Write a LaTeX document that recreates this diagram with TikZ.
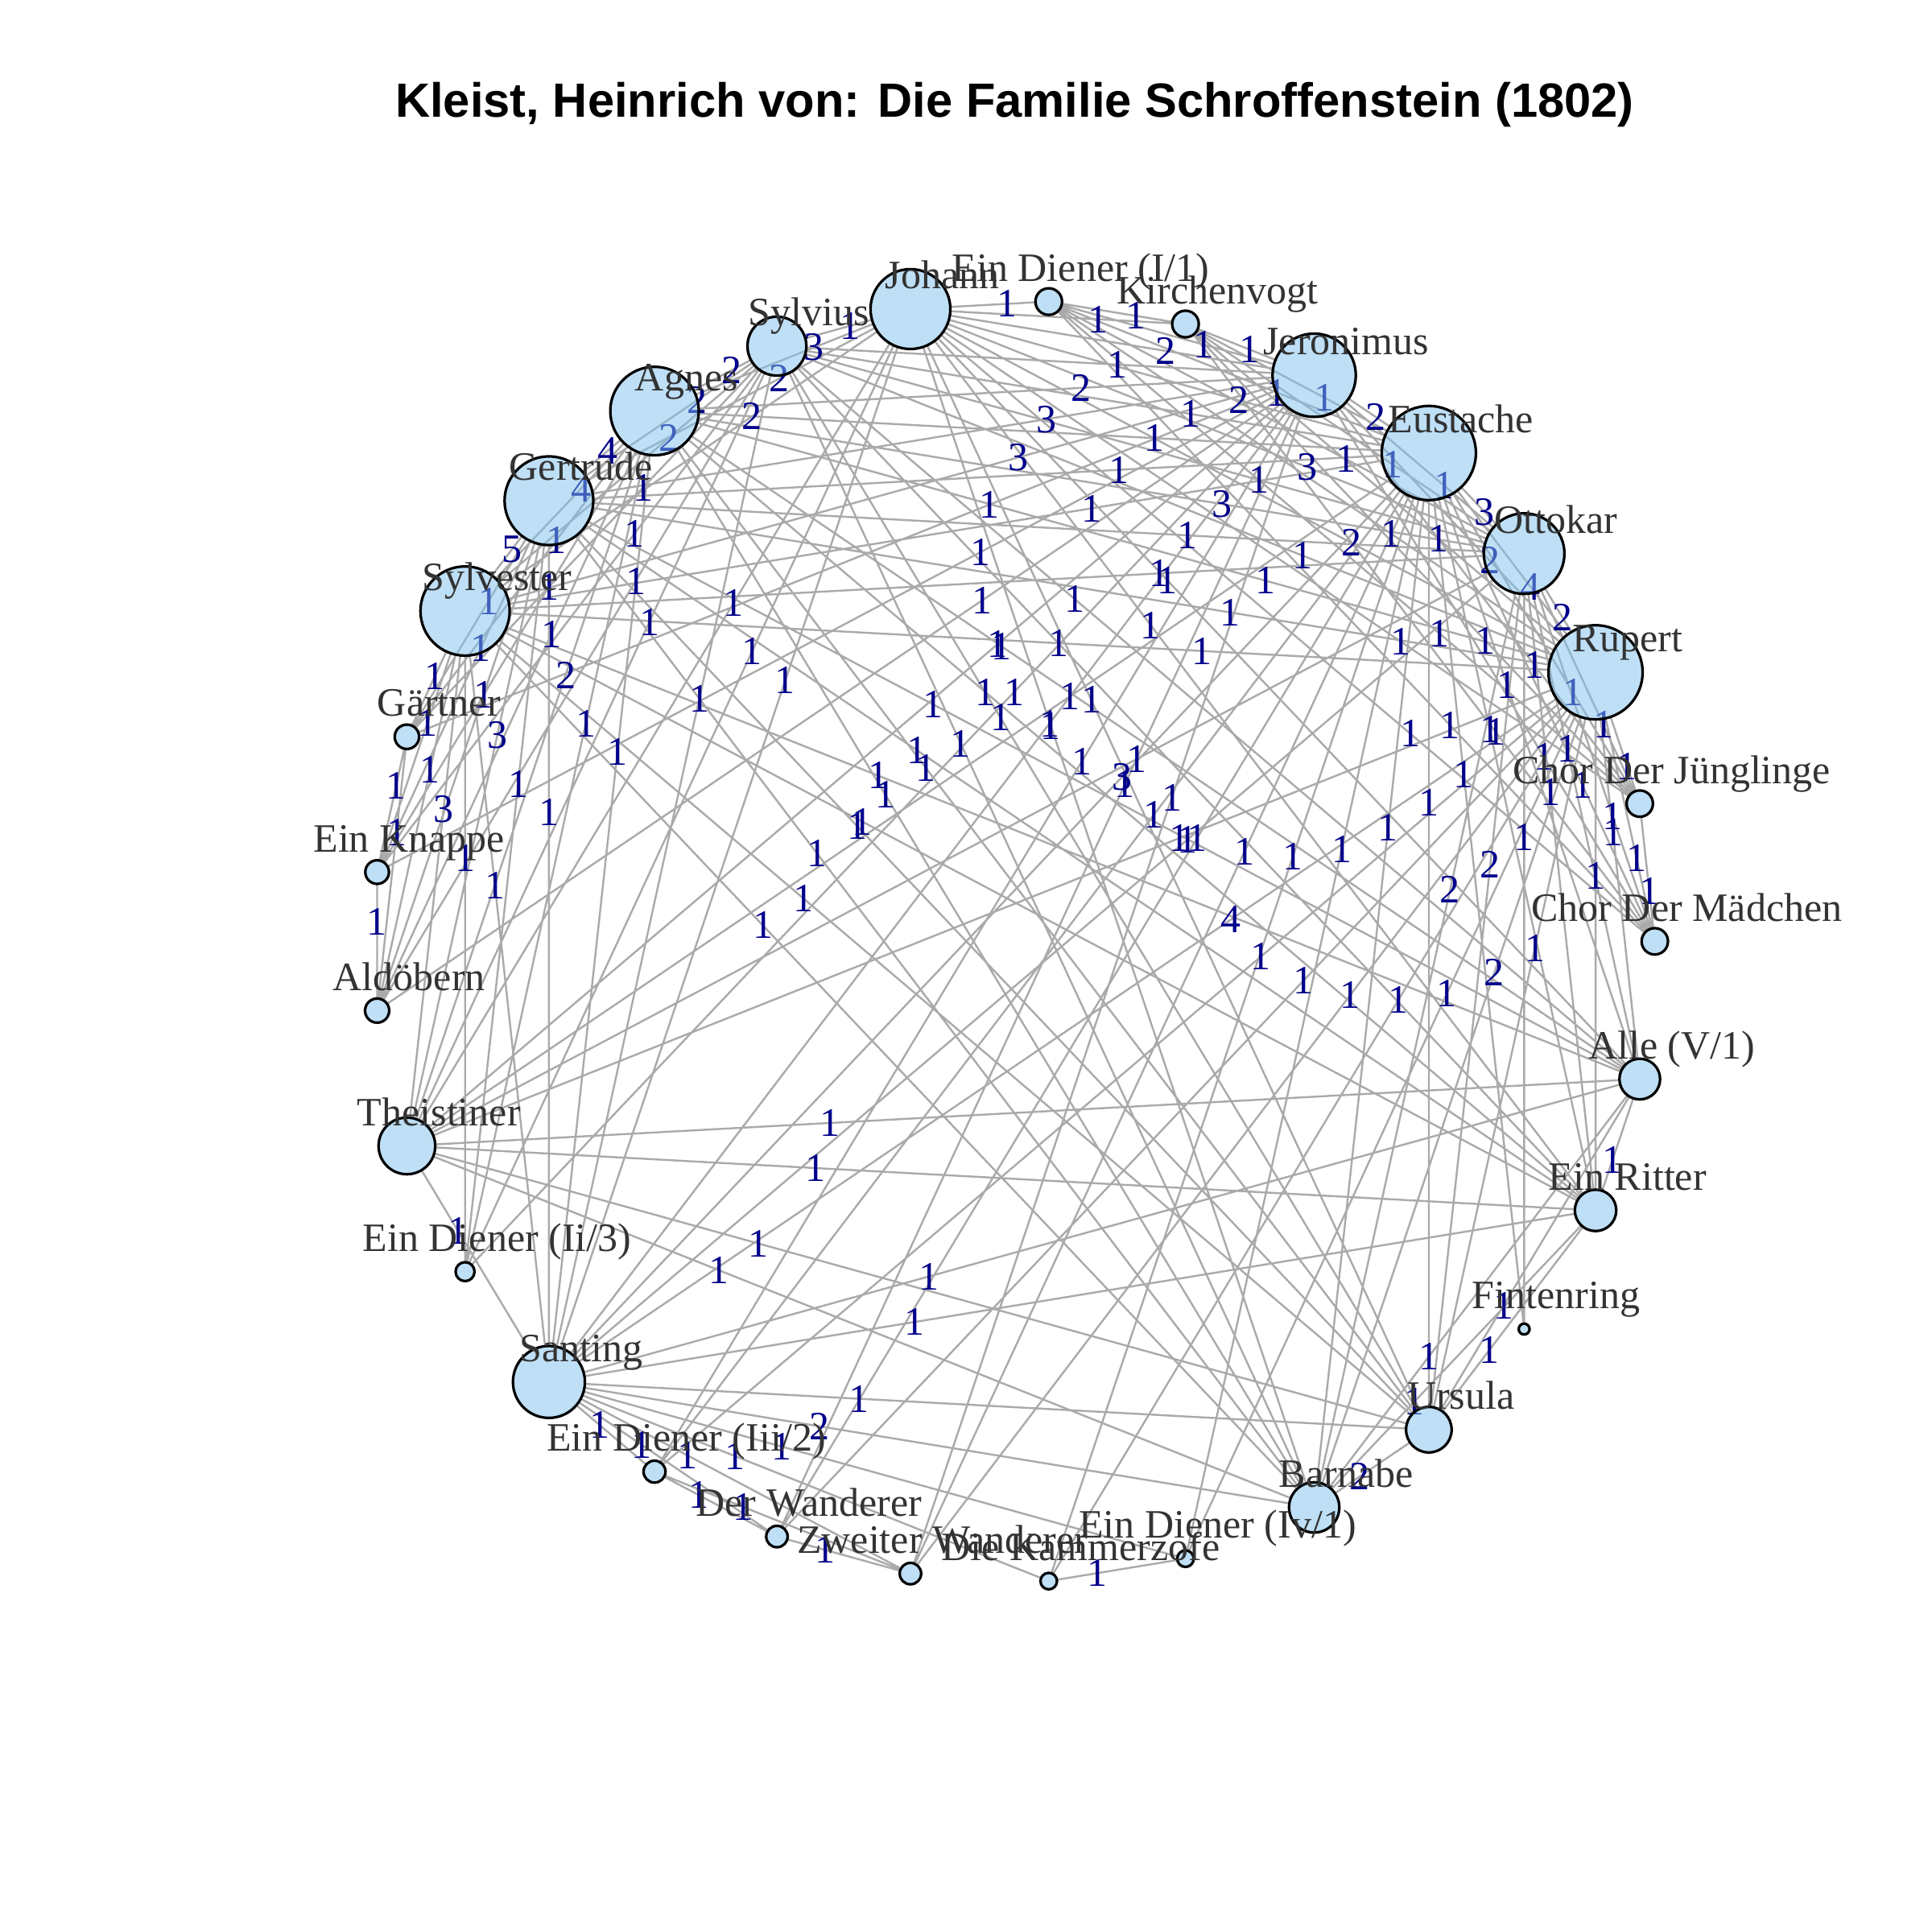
\documentclass[tikz,border=0pt]{standalone}
\usepackage{fontspec}
\setmainfont{Liberation Serif}
\newfontfamily\titlefont{Liberation Sans}
\usetikzlibrary{calc}
\pgfdeclarelayer{background}
\pgfsetlayers{background,main}
\definecolor{linkgray}{RGB}{170,170,170}
\definecolor{wtblue}{RGB}{0,0,139}
\definecolor{vxblue}{RGB}{126,192,238}
\definecolor{namegray}{RGB}{51,51,51}

\begin{document}
\begin{tikzpicture}[
  vx/.style={circle, draw=black, line width=0.6pt, fill=vxblue, fill opacity=0.5, draw opacity=1, inner sep=0pt, outer sep=0pt},
  vname/.style={anchor=base, text=namegray, font=\fontsize{9.3}{11}\selectfont, inner sep=0pt},
  link/.style={draw=linkgray, line width=0.45pt},
  wt/.style={pos=1/3, text=wtblue, font=\fontsize{9.3}{11}\selectfont, inner sep=0pt}]
  \useasboundingbox (0,0) rectangle (15.68,15.68);
  % title
  \node[anchor=base, font=\titlefont\bfseries\fontsize{11.1}{13}\selectfont] (title) at (8.235,14.726) {Kleist, Heinrich von: Die Familie Schroffenstein (1802)};
  % circle layout, r=5.2, 29 characters, step 360/29
  \coordinate (c) at (8.23,8.04);
  \node[vx, minimum size=2.14mm] (chorm)       at ($(c)+(0:5.2)$)       {};
  \node[vx, minimum size=2.14mm] (chorj)       at ($(c)+(12.414:5.2)$)  {};
  \node[vx, minimum size=7.64mm] (rupert)      at ($(c)+(24.828:5.2)$)  {};
  \node[vx, minimum size=6.54mm] (ottokar)     at ($(c)+(37.241:5.2)$)  {};
  \node[vx, minimum size=7.64mm] (eustache)    at ($(c)+(49.655:5.2)$)  {};
  \node[vx, minimum size=6.76mm] (jeronimus)   at ($(c)+(62.069:5.2)$)  {};
  \node[vx, minimum size=2.16mm] (kirchenvogt) at ($(c)+(74.483:5.2)$)  {};
  \node[vx, minimum size=2.16mm] (dieneri)     at ($(c)+(86.897:5.2)$)  {};
  \node[vx, minimum size=6.48mm] (johann)      at ($(c)+(99.310:5.2)$)  {};
  \node[vx, minimum size=4.78mm] (sylvius)     at ($(c)+(111.724:5.2)$) {};
  \node[vx, minimum size=7.18mm] (agnes)       at ($(c)+(124.138:5.2)$) {};
  \node[vx, minimum size=7.20mm] (gertrude)    at ($(c)+(136.552:5.2)$) {};
  \node[vx, minimum size=7.24mm] (sylvester)   at ($(c)+(148.966:5.2)$) {};
  \node[vx, minimum size=1.98mm] (gaertner)    at ($(c)+(161.379:5.2)$) {};
  \node[vx, minimum size=1.92mm] (knappe)      at ($(c)+(173.793:5.2)$) {};
  \node[vx, minimum size=1.96mm] (aldoebern)   at ($(c)+(186.207:5.2)$) {};
  \node[vx, minimum size=4.60mm] (theistiner)  at ($(c)+(198.621:5.2)$) {};
  \node[vx, minimum size=1.54mm] (dienerii)    at ($(c)+(211.034:5.2)$) {};
  \node[vx, minimum size=5.84mm] (santing)     at ($(c)+(223.448:5.2)$) {};
  \node[vx, minimum size=1.78mm] (dieneriii)   at ($(c)+(235.862:5.2)$) {};
  \node[vx, minimum size=1.74mm] (wanderer)    at ($(c)+(248.276:5.2)$) {};
  \node[vx, minimum size=1.74mm] (zweiter)     at ($(c)+(260.690:5.2)$) {};
  \node[vx, minimum size=1.34mm] (zofe)        at ($(c)+(273.103:5.2)$) {};
  \node[vx, minimum size=1.34mm] (dieneriv)    at ($(c)+(285.517:5.2)$) {};
  \node[vx, minimum size=4.08mm] (barnabe)     at ($(c)+(297.931:5.2)$) {};
  \node[vx, minimum size=3.70mm] (ursula)      at ($(c)+(310.345:5.2)$) {};
  \node[vx, minimum size=0.88mm] (fintenring)  at ($(c)+(322.759:5.2)$) {};
  \node[vx, minimum size=3.36mm] (ritter)      at ($(c)+(335.172:5.2)$) {};
  \node[vx, minimum size=3.30mm] (alle)        at ($(c)+(347.586:5.2)$) {};
  % names, up and to the right of each vertex
  \node[vname] at ($(chorm)+(0.26,0.165)$)       {Chor Der Mädchen};
  \node[vname] at ($(chorj)+(0.26,0.165)$)       {Chor Der Jünglinge};
  \node[vname] at ($(rupert)+(0.26,0.165)$)      {Rupert};
  \node[vname] at ($(ottokar)+(0.26,0.165)$)     {Ottokar};
  \node[vname] at ($(eustache)+(0.26,0.165)$)    {Eustache};
  \node[vname] at ($(jeronimus)+(0.26,0.165)$)   {Jeronimus};
  \node[vname] at ($(kirchenvogt)+(0.26,0.165)$) {Kirchenvogt};
  \node[vname] at ($(dieneri)+(0.26,0.165)$)     {Ein Diener (I/1)};
  \node[vname] at ($(johann)+(0.26,0.165)$)      {Johann};
  \node[vname] at ($(sylvius)+(0.26,0.165)$)     {Sylvius};
  \node[vname] at ($(agnes)+(0.26,0.165)$)       {Agnes};
  \node[vname] at ($(gertrude)+(0.26,0.165)$)    {Gertrude};
  \node[vname] at ($(sylvester)+(0.26,0.165)$)   {Sylvester};
  \node[vname] at ($(gaertner)+(0.26,0.165)$)    {Gärtner};
  \node[vname] at ($(knappe)+(0.26,0.165)$)      {Ein Knappe};
  \node[vname] at ($(aldoebern)+(0.26,0.165)$)   {Aldöbern};
  \node[vname] at ($(theistiner)+(0.26,0.165)$)  {Theistiner};
  \node[vname] at ($(dienerii)+(0.26,0.165)$)    {Ein Diener (Ii/3)};
  \node[vname] at ($(santing)+(0.26,0.165)$)     {Santing};
  \node[vname] at ($(dieneriii)+(0.26,0.165)$)   {Ein Diener (Iii/2)};
  \node[vname] at ($(wanderer)+(0.26,0.165)$)    {Der Wanderer};
  \node[vname] at ($(zweiter)+(0.26,0.165)$)     {Zweiter Wanderer};
  \node[vname] at ($(zofe)+(0.26,0.165)$)        {Die Kammerzofe};
  \node[vname] at ($(dieneriv)+(0.26,0.165)$)    {Ein Diener (Iv/1)};
  \node[vname] at ($(barnabe)+(0.26,0.165)$)     {Barnabe};
  \node[vname] at ($(ursula)+(0.26,0.165)$)      {Ursula};
  \node[vname] at ($(fintenring)+(0.26,0.165)$)  {Fintenring};
  \node[vname] at ($(ritter)+(0.26,0.165)$)      {Ein Ritter};
  \node[vname] at ($(alle)+(0.26,0.165)$)        {Alle (V/1)};
  % weighted links, weight sits a third of the way from the first vertex
  \begin{pgfonlayer}{background}
  \draw[link]
    % Chor Der Maedchen
    (chorm) -- node[wt]{1} (chorj) (chorm) -- node[wt]{1} (rupert) (chorm) -- node[wt]{1} (ottokar)
    (chorm) -- node[wt]{1} (eustache) (chorm) -- node[wt]{1} (jeronimus) (chorm) -- node[wt]{1} (kirchenvogt)
    (chorm) -- node[wt]{1} (dieneri) (chorm) -- node[wt]{1} (johann)
    % Chor Der Juenglinge
    (chorj) -- node[wt]{1} (rupert) (chorj) -- node[wt]{1} (ottokar) (chorj) -- node[wt]{1} (eustache)
    (chorj) -- node[wt]{1} (jeronimus) (chorj) -- node[wt]{1} (kirchenvogt) (chorj) -- node[wt]{1} (dieneri)
    (chorj) -- node[wt]{1} (johann)
    % Rupert
    (rupert) -- node[wt]{2} (ottokar) (rupert) -- node[wt]{4} (eustache) (rupert) -- node[wt]{2} (jeronimus)
    (rupert) -- node[wt]{1} (kirchenvogt) (rupert) -- node[wt]{1} (dieneri) (rupert) -- node[wt]{2} (johann)
    (rupert) -- node[wt]{1} (sylvius) (rupert) -- node[wt]{1} (agnes) (rupert) -- node[wt]{1} (gertrude)
    (rupert) -- node[wt]{1} (sylvester) (rupert) -- node[wt]{1} (theistiner) (rupert) -- node[wt]{4} (santing)
    (rupert) -- node[wt]{1} (dieneriii) (rupert) -- node[wt]{1} (wanderer) (rupert) -- node[wt]{1} (zweiter)
    (rupert) -- node[wt]{1} (zofe) (rupert) -- node[wt]{1} (dieneriv) (rupert) -- node[wt]{2} (barnabe)
    (rupert) -- node[wt]{1} (ursula) (rupert) -- node[wt]{1} (ritter) (rupert) -- node[wt]{1} (alle)
    % Ottokar
    (ottokar) -- node[wt]{3} (eustache) (ottokar) -- node[wt]{1} (jeronimus) (ottokar) -- node[wt]{1} (kirchenvogt)
    (ottokar) -- node[wt]{1} (dieneri) (ottokar) -- node[wt]{3} (johann) (ottokar) -- node[wt]{1} (sylvius)
    (ottokar) -- node[wt]{3} (agnes) (ottokar) -- node[wt]{1} (gertrude) (ottokar) -- node[wt]{1} (sylvester)
    (ottokar) -- node[wt]{1} (theistiner) (ottokar) -- node[wt]{1} (santing) (ottokar) -- node[wt]{2} (barnabe)
    (ottokar) -- node[wt]{2} (ursula) (ottokar) -- node[wt]{1} (fintenring) (ottokar) -- node[wt]{1} (ritter)
    (ottokar) -- node[wt]{1} (alle)
    % Eustache
    (eustache) -- node[wt]{2} (jeronimus) (eustache) -- node[wt]{1} (kirchenvogt) (eustache) -- node[wt]{1} (dieneri)
    (eustache) -- node[wt]{2} (johann) (eustache) -- node[wt]{1} (sylvius) (eustache) -- node[wt]{1} (agnes)
    (eustache) -- node[wt]{1} (gertrude) (eustache) -- node[wt]{1} (sylvester) (eustache) -- node[wt]{1} (theistiner)
    (eustache) -- node[wt]{3} (santing) (eustache) -- node[wt]{1} (dieneriii) (eustache) -- node[wt]{1} (wanderer)
    (eustache) -- node[wt]{1} (zweiter) (eustache) -- node[wt]{1} (zofe) (eustache) -- node[wt]{1} (dieneriv)
    (eustache) -- node[wt]{1} (barnabe) (eustache) -- node[wt]{1} (ursula) (eustache) -- node[wt]{1} (fintenring)
    (eustache) -- node[wt]{1} (ritter) (eustache) -- node[wt]{1} (alle)
    % Jeronimus
    (jeronimus) -- node[wt]{1} (kirchenvogt) (jeronimus) -- node[wt]{1} (dieneri) (jeronimus) -- node[wt]{2} (johann)
    (jeronimus) -- node[wt]{1} (sylvius) (jeronimus) -- node[wt]{2} (agnes) (jeronimus) -- node[wt]{3} (gertrude)
    (jeronimus) -- node[wt]{3} (sylvester) (jeronimus) -- node[wt]{1} (gaertner) (jeronimus) -- node[wt]{1} (knappe)
    (jeronimus) -- node[wt]{1} (aldoebern) (jeronimus) -- node[wt]{1} (theistiner) (jeronimus) -- node[wt]{1} (dienerii)
    (jeronimus) -- node[wt]{1} (santing) (jeronimus) -- node[wt]{1} (dieneriii) (jeronimus) -- node[wt]{1} (wanderer)
    (jeronimus) -- node[wt]{1} (zweiter)
    % Kirchenvogt, Ein Diener (I/1)
    (kirchenvogt) -- node[wt]{1} (dieneri) (kirchenvogt) -- node[wt]{1} (johann)
    (dieneri) -- node[wt]{1} (johann)
    % Johann
    (johann) -- node[wt]{1} (sylvius) (johann) -- node[wt]{3} (agnes) (johann) -- node[wt]{2} (gertrude)
    (johann) -- node[wt]{2} (sylvester) (johann) -- node[wt]{1} (theistiner) (johann) -- node[wt]{1} (dienerii)
    (johann) -- node[wt]{1} (santing) (johann) -- node[wt]{1} (barnabe) (johann) -- node[wt]{1} (ursula)
    (johann) -- node[wt]{1} (ritter) (johann) -- node[wt]{1} (alle)
    % Sylvius
    (sylvius) -- node[wt]{2} (agnes) (sylvius) -- node[wt]{2} (gertrude) (sylvius) -- node[wt]{2} (sylvester)
    (sylvius) -- node[wt]{1} (gaertner) (sylvius) -- node[wt]{1} (knappe) (sylvius) -- node[wt]{1} (aldoebern)
    (sylvius) -- node[wt]{1} (theistiner) (sylvius) -- node[wt]{1} (santing) (sylvius) -- node[wt]{1} (barnabe)
    (sylvius) -- node[wt]{1} (ursula) (sylvius) -- node[wt]{1} (ritter) (sylvius) -- node[wt]{1} (alle)
    % Agnes
    (agnes) -- node[wt]{4} (gertrude) (agnes) -- node[wt]{4} (sylvester) (agnes) -- node[wt]{1} (gaertner)
    (agnes) -- node[wt]{1} (knappe) (agnes) -- node[wt]{1} (aldoebern) (agnes) -- node[wt]{2} (theistiner)
    (agnes) -- node[wt]{1} (dienerii) (agnes) -- node[wt]{1} (santing) (agnes) -- node[wt]{1} (barnabe)
    (agnes) -- node[wt]{1} (ursula) (agnes) -- node[wt]{1} (ritter) (agnes) -- node[wt]{1} (alle)
    % Gertrude
    (gertrude) -- node[wt]{5} (sylvester) (gertrude) -- node[wt]{1} (gaertner) (gertrude) -- node[wt]{1} (knappe)
    (gertrude) -- node[wt]{1} (aldoebern) (gertrude) -- node[wt]{3} (theistiner) (gertrude) -- node[wt]{1} (dienerii)
    (gertrude) -- node[wt]{1} (santing) (gertrude) -- node[wt]{1} (barnabe) (gertrude) -- node[wt]{1} (ursula)
    (gertrude) -- node[wt]{1} (ritter) (gertrude) -- node[wt]{1} (alle)
    % Sylvester
    (sylvester) -- node[wt]{1} (gaertner) (sylvester) -- node[wt]{1} (knappe) (sylvester) -- node[wt]{1} (aldoebern)
    (sylvester) -- node[wt]{3} (theistiner) (sylvester) -- node[wt]{1} (dienerii) (sylvester) -- node[wt]{1} (santing)
    (sylvester) -- node[wt]{1} (barnabe) (sylvester) -- node[wt]{1} (ursula) (sylvester) -- node[wt]{1} (ritter)
    (sylvester) -- node[wt]{1} (alle)
    % Gaertner, Ein Knappe
    (gaertner) -- node[wt]{1} (knappe) (gaertner) -- node[wt]{1} (aldoebern)
    (knappe) -- node[wt]{1} (aldoebern)
    % Theistiner
    (theistiner) -- node[wt]{1} (santing) (theistiner) -- node[wt]{1} (barnabe) (theistiner) -- node[wt]{1} (ursula)
    (theistiner) -- node[wt]{1} (ritter) (theistiner) -- node[wt]{1} (alle)
    % Santing
    (santing) -- node[wt]{1} (dieneriii) (santing) -- node[wt]{1} (wanderer) (santing) -- node[wt]{1} (zweiter)
    (santing) -- node[wt]{1} (zofe) (santing) -- node[wt]{1} (dieneriv) (santing) -- node[wt]{2} (barnabe)
    (santing) -- node[wt]{1} (ursula) (santing) -- node[wt]{1} (ritter) (santing) -- node[wt]{1} (alle)
    % small parts at the bottom
    (dieneriii) -- node[wt]{1} (wanderer) (dieneriii) -- node[wt]{1} (zweiter)
    (wanderer) -- node[wt]{1} (zweiter)
    (zofe) -- node[wt]{1} (dieneriv)
    % Barnabe, Ursula, Ein Ritter
    (barnabe) -- node[wt]{2} (ursula) (barnabe) -- node[wt]{1} (ritter) (barnabe) -- node[wt]{1} (alle)
    (ursula) -- node[wt]{1} (ritter) (ursula) -- node[wt]{1} (alle)
    (ritter) -- node[wt]{1} (alle);
  \end{pgfonlayer}
\end{tikzpicture}
\end{document}
